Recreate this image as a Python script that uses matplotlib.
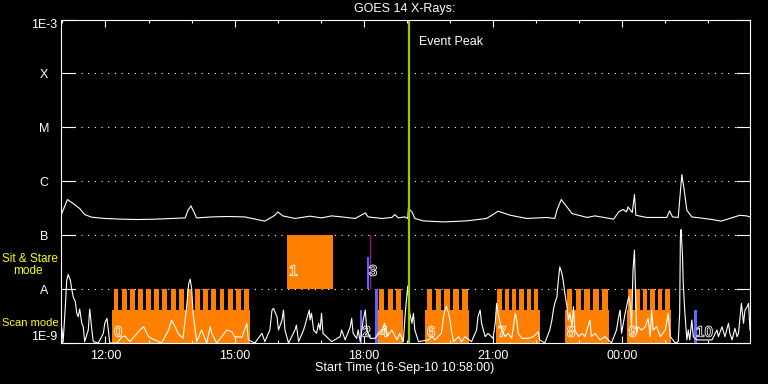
import numpy as np
import matplotlib
matplotlib.use('Agg')
import matplotlib.pyplot as plt
import matplotlib.patheffects as pe
from matplotlib.ticker import NullLocator

plt.rcParams['font.family'] = ['Liberation Sans', 'DejaVu Sans']

# start of the plot: 16-Sep-10 10:58:00, 16 hours shown
start_hour = 10 + 58 / 60.
span_hours = 16

# GOES 14 long channel (1-8 A), minutes after start, flux in 1e-7 W/m2
long_min = [0, 9, 20, 26, 33, 43, 61, 85, 107, 131,
            154, 173, 177, 181, 184, 189, 210, 233, 256, 284,
            298, 302, 309, 326, 347, 363, 377, 391, 410, 424,
            428, 447, 461, 465, 470, 479, 483, 484, 489, 493,
            505, 533, 565, 593, 609, 626, 649, 677, 688, 691,
            697, 705, 712, 733, 744, 770, 777, 783, 788, 790,
            796, 799, 801, 816, 844, 848, 852, 860, 865, 868,
            872, 879, 904, 920, 934, 946, 955, 960]
long_flux = [2.34, 4.58, 3.60, 3.12, 2.41, 2.15, 2.04, 1.98, 1.95, 1.98,
             2.04, 2.09, 2.90, 3.49, 2.90, 2.09, 2.18, 2.22, 2.18, 1.82,
             2.34, 2.70, 2.28, 2.04, 2.25, 2.09, 2.28, 2.18, 2.04, 2.59,
             2.18, 2.04, 2.13, 2.41, 2.09, 2.18, 2.04, 3.12, 2.70, 2.04,
             1.84, 1.76, 1.84, 2.04, 2.78, 2.34, 2.04, 2.13, 2.04, 2.90,
             4.58, 3.34, 2.52, 2.13, 2.28, 1.98, 2.70, 2.99, 2.70, 3.34,
             2.63, 5.67, 2.34, 2.13, 2.13, 2.82, 2.18, 2.13, 13.3, 7.32,
             2.90, 2.18, 1.98, 1.82, 2.09, 2.34, 2.28, 2.18]

# GOES 14 short channel (0.5-4 A), minutes after start, flux in 1e-9 W/m2
short_min = [0, 1, 3, 6, 8, 10, 13, 15, 17, 20,
             22, 24, 26, 29, 31, 33, 38, 40, 43, 45,
             52, 59, 61, 64, 66, 68, 78, 85, 89, 96,
             110, 115, 122, 126, 140, 150, 154, 159, 163, 170,
             175, 178, 180, 182, 184, 187, 189, 196, 203, 208,
             210, 217, 224, 231, 238, 242, 252, 259, 261, 270,
             280, 284, 291, 294, 296, 301, 303, 308, 310, 312,
             317, 326, 328, 331, 338, 342, 346, 347, 349, 352,
             356, 359, 361, 363, 365, 370, 377, 389, 391, 396,
             403, 405, 407, 412, 414, 417, 421, 424, 426, 431,
             438, 442, 447, 451, 454, 461, 468, 472, 477, 480,
             482, 483, 485, 486, 489, 491, 493, 496, 498, 512,
             517, 521, 530, 533, 535, 537, 540, 542, 544, 547,
             554, 558, 563, 572, 579, 581, 584, 586, 591, 595,
             602, 605, 607, 609, 614, 619, 623, 628, 633, 635,
             637, 642, 651, 658, 663, 665, 667, 674, 681, 684,
             686, 688, 691, 693, 695, 698, 700, 702, 705, 707,
             709, 712, 714, 716, 721, 726, 730, 737, 739, 744,
             751, 758, 767, 774, 777, 779, 781, 786, 791, 793,
             795, 797, 799, 801, 802, 804, 809, 814, 818, 821,
             823, 825, 830, 835, 842, 846, 849, 856, 860, 862,
             863, 864, 866, 867, 869, 872, 874, 876, 879, 881,
             886, 893, 907, 914, 916, 921, 925, 930, 932, 935,
             939, 942, 944, 948, 951, 953, 956, 958, 960]
short_flux = [1.0, 2.0, 1.06, 4.7, 14.7, 18.7, 14.7, 9.9, 7.2, 5.8,
              3.55, 3.07, 4.27, 2.32, 2.0, 1.06, 1.74, 4.27, 1.74, 1.06,
              1.0, 1.51, 2.32, 2.87, 1.74, 1.0, 1.0, 1.31, 1.35, 1.06,
              1.74, 2.0, 1.31, 1.22, 1.0, 1.74, 2.67, 2.0, 1.51, 1.22,
              4.7, 12.7, 15.3, 10.3, 3.55, 1.74, 1.06, 1.74, 1.0, 2.0,
              1.51, 1.0, 1.31, 1.74, 1.62, 1.31, 1.28, 2.32, 1.14, 1.0,
              1.51, 1.06, 1.74, 4.08, 4.39, 3.07, 1.74, 2.67, 4.08, 1.74,
              1.0, 1.74, 2.15, 1.06, 1.74, 2.67, 4.08, 2.67, 3.55, 1.74,
              1.51, 2.32, 1.74, 3.55, 1.51, 1.31, 1.06, 1.31, 1.74, 1.14,
              2.0, 2.87, 1.51, 1.22, 1.74, 1.06, 2.67, 4.08, 1.74, 1.22,
              1.22, 1.51, 1.74, 2.32, 1.31, 1.74, 1.14, 1.51, 1.06, 4.08,
              7.75, 11.4, 5.43, 3.55, 2.32, 3.55, 1.74, 1.31, 1.06, 1.14,
              1.31, 1.14, 1.51, 3.07, 4.08, 4.84, 3.55, 2.67, 1.74, 1.06,
              1.31, 1.06, 1.31, 1.06, 1.74, 3.07, 4.08, 2.32, 1.31, 1.51,
              1.22, 2.32, 5.43, 3.55, 1.74, 1.31, 1.51, 1.22, 3.55, 2.67,
              1.51, 1.22, 1.22, 1.31, 1.51, 1.62, 1.14, 1.0, 1.74, 2.67,
              4.08, 5.43, 7.2, 14.7, 25.9, 19.5, 13.6, 8.3, 4.7, 2.67,
              3.55, 2.0, 4.7, 1.74, 1.31, 1.51, 1.31, 2.67, 1.31, 1.51,
              1.14, 1.31, 1.0, 1.74, 3.07, 4.08, 1.51, 3.55, 7.2, 5.43,
              2.0, 22.5, 52.7, 5.43, 1.51, 2.0, 1.74, 2.0, 2.87, 1.31,
              4.08, 1.74, 2.0, 1.31, 1.74, 3.55, 1.31, 1.0, 1.06, 3.55,
              93, 127, 39.6, 12.7, 4.08, 1.14, 1.74, 1.14, 2.67, 1.31,
              1.14, 1.14, 1.14, 1.74, 1.31, 2.0, 1.31, 2.32, 1.51, 1.14,
              1.87, 1.31, 1.51, 5.43, 2.32, 4.08, 4.7, 5.43, 1.74]

# observations (minutes after start)
obs_label = ['0', '1', '2', '3', '4', '6', '7', '8', '9', '10']
obs_start = [71, 315, 417, 426, 441, 507, 606, 702, 788, 882]
obs_end = [264, 379, 420, 432, 476, 569, 667, 764, 850, 886]
obs_mode = ['scan', 'stare', 'scan', 'stare', 'scan', 'scan', 'scan', 'scan', 'scan', 'scan']
obs_rasters = [17, 0, 0, 0, 3, 5, 6, 5, 6, 0]

# short studies drawn in blue / magenta
short_start = [417, 426, 438, 882]
short_end = [420, 429, 441, 886]
short_low = [1e-9, 1e-8, 1e-9, 1e-9]
short_high = [4.1e-9, 4e-8, 1e-8, 4.1e-9]
stare_mark = [430, 432]

peak_min = 485

# flux bands for the two modes
scan_band = (1e-9, 4.1e-9, 1e-8)
stare_band = (1e-8, 1e-7)

orange = '#ff8000'
blue = '#6464ff'
magenta = '#c000c0'
green = '#99cc00'
fs = 9


def to_hour(m):
    return start_hour + np.asarray(m, dtype=float) / 60.


fig = plt.figure(figsize=(7.68, 3.84), dpi=100, facecolor='black')
ax = fig.add_axes([61 / 768., 41 / 384., 689 / 768., 323.5 / 384.])
ax.set_facecolor('black')
ax.set_yscale('log')
ax.set_ylim(1e-9, 1e-3)
ax.set_xlim(start_hour, start_hour + span_hours)

# dotted level lines
for lvl in [1e-8, 1e-7, 1e-6, 1e-5, 1e-4]:
    ax.axhline(lvl, color='white', lw=0.8, ls=(0, (1, 5)), zorder=0.5)

# observation blocks
for lab, s, e, mode, n in zip(obs_label, obs_start, obs_end, obs_mode, obs_rasters):
    x0 = to_hour(s)
    w = to_hour(e) - x0
    if mode == 'stare':
        if lab == '1':
            ax.bar(x0, stare_band[1] - stare_band[0], w, bottom=stare_band[0],
                   align='edge', color=orange, lw=0, zorder=1)
        lev = 2.1e-8
    else:
        if n > 0:
            ax.bar(x0, scan_band[1] - scan_band[0], w, bottom=scan_band[0],
                   align='edge', color=orange, lw=0, zorder=1)
            p = w / n
            for i in range(n):
                ax.bar(x0 + i * p + 0.2 * p, scan_band[2] - scan_band[1], 0.6 * p,
                       bottom=scan_band[1], align='edge', color=orange, lw=0, zorder=1)
        lev = 1.55e-9
    # hollow digits: outline only
    ax.annotate(lab, xy=(x0, lev), xytext=(2, 0), textcoords='offset pixels',
                ha='left', va='center', fontsize=11, fontweight='bold',
                color=(0, 0, 0, 0), zorder=4,
                path_effects=[pe.Stroke(linewidth=0.6, foreground='white')])

for s, e, lo, hi in zip(short_start, short_end, short_low, short_high):
    ax.bar(to_hour(s), hi - lo, to_hour(e) - to_hour(s), bottom=lo,
           align='edge', color=blue, lw=0, zorder=1.5)
ax.bar(to_hour(stare_mark[0]), stare_band[1] - stare_band[0],
       to_hour(stare_mark[1]) - to_hour(stare_mark[0]), bottom=stare_band[0],
       align='edge', color=magenta, lw=0, zorder=1.5)

# GOES curves
ax.plot(to_hour(long_min), np.array(long_flux) * 1e-7, color='white', lw=0.8, zorder=2)
ax.plot(to_hour(short_min), np.array(short_flux) * 1e-9, color='white', lw=0.8, zorder=2)

# event peak
ax.axvline(to_hour(peak_min), color=green, lw=1.6, zorder=2.5)
ax.annotate('Event Peak', xy=(to_hour(peak_min), 0.929), xycoords=('data', 'axes fraction'),
            xytext=(10, 0), textcoords='offset pixels', ha='left', va='center',
            color='white', fontsize=fs)

# axes styling
for sp in ax.spines.values():
    sp.set_color('white')
    sp.set_linewidth(0.8)

ax.set_yticks([1e-9, 1e-8, 1e-7, 1e-6, 1e-5, 1e-4, 1e-3])
ax.set_yticklabels(['1E-9', 'A', 'B', 'C', 'M', 'X', '1E-3'])
ax.yaxis.set_minor_locator(NullLocator())
ax.tick_params(axis='y', which='major', direction='in', length=10, width=0.8,
               colors='white', left=True, right=True, pad=12.2, labelsize=fs)
ylabels = ax.get_yticklabels()
for lbl in ylabels:
    lbl.set_horizontalalignment('center')
ylabels[0].set_verticalalignment('bottom')
ylabels[-1].set_verticalalignment('top')

ax.set_xticks([12, 15, 18, 21, 24])
ax.set_xticklabels(['12:00', '15:00', '18:00', '21:00', '00:00'])
ax.set_xticks(np.arange(11, 27), minor=True)
ax.tick_params(axis='x', which='major', direction='in', length=4.8, width=0.8,
               colors='white', top=True, bottom=True, pad=5, labelsize=fs)
ax.tick_params(axis='x', which='minor', direction='in', length=2.4, width=0.8,
               colors='white', top=True, bottom=True)

fig.text(405 / 768., 1 - 9.3 / 384., 'GOES 14 X-Rays:', color='white',
         ha='center', va='center', fontsize=fs)
fig.text(405 / 768., 1 - 367.7 / 384., 'Start Time (16-Sep-10 10:58:00)', color='white',
         ha='center', va='center', fontsize=fs)

fig.text(2 / 768., 1 - 258.5 / 384., 'Sit & Stare', color='yellow', ha='left', va='center', fontsize=8.5)
fig.text(12.7 / 768., 1 - 271 / 384., 'mode', color='yellow', ha='left', va='center', fontsize=8.5)
fig.text(2 / 768., 1 - 323.5 / 384., 'Scan mode', color='yellow', ha='left', va='center', fontsize=8)

fig.savefig('out.png', dpi=100, facecolor='black')
